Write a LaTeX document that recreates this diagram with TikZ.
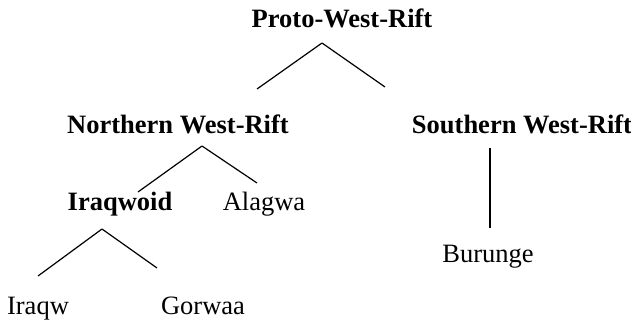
\documentclass[tikz,border=0pt]{standalone}
\usepackage{fontspec}
\setmainfont{Liberation Serif}
\usetikzlibrary{positioning}

\begin{document}
\begin{tikzpicture}[x=1pt,y=-1pt]
    \useasboundingbox (0,0) rectangle (631,320);
    \begin{scope}[every node/.style={inner sep=0pt,anchor=base,font=\fontsize{26.5}{30}\selectfont}]
    \node[font=\fontsize{26.5}{30}\selectfont\bfseries] (proto) at (342,28) {Proto-West-Rift};
    \node[font=\fontsize{26.5}{30}\selectfont\bfseries] (north) at (178,134) {Northern West-Rift};
    \node[font=\fontsize{26.5}{30}\selectfont\bfseries] (south) at (522,134) {Southern West-Rift};
    \node[font=\fontsize{26.5}{30}\selectfont\bfseries] (iraqwoid) at (120,211) {Iraqwoid};
    \node (alagwa) at (264,211) {Alagwa};
    \node (burunge) at (488,262) {Burunge};
    \node (iraqw) at (38,314) {Iraqw};
    \node (gorwaa) at (203,314) {Gorwaa};
    \end{scope}
    % branch points
    \coordinate (p-top) at (322,43);
    \coordinate (p-l) at (257,89);
    \coordinate (p-r) at (385,87);
    \coordinate (n-top) at (202,146);
    \coordinate (n-l) at (138,192);
    \coordinate (n-r) at (257,183);
    \coordinate (s-top) at (490,148);
    \coordinate (s-bot) at (490,228);
    \coordinate (i-top) at (102,229);
    \coordinate (i-l) at (38,276);
    \coordinate (i-r) at (157,268);
    \begin{scope}[every edge/.style={draw=black,line width=1.2pt}]
    \path (p-top) edge (p-l);
    \path (p-top) edge (p-r);
    \path (n-top) edge (n-l);
    \path (n-top) edge (n-r);
    \path (s-top) edge (s-bot);
    \path (i-top) edge (i-l);
    \path (i-top) edge (i-r);
    \end{scope}
\end{tikzpicture}
\end{document}
